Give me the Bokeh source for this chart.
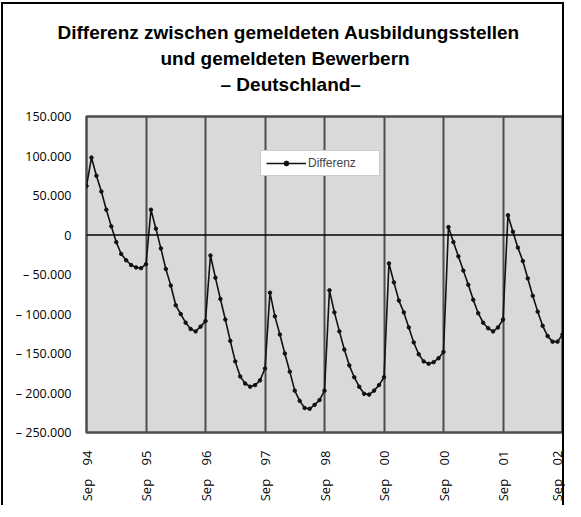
import math
from bokeh.plotting import figure
from bokeh.models import Range1d, FixedTicker, Span, Legend, LegendItem, Title, InlineStyleSheet
from bokeh.embed import file_html
from bokeh.resources import INLINE

# Differenz (gemeldete Ausbildungsstellen - gemeldete Bewerber), monatlich ab Sep 94
jahr_94_95 = [62000, 98000, 75000, 55000, 32000, 11000, -9000, -24000, -32000, -38000, -41000, -42000, -37000]
jahr_95_96 = [32000, 8000, -17000, -43000, -64000, -89000, -100000, -111000, -119000, -122000, -116000, -109000]
jahr_96_97 = [-26000, -54000, -81000, -107000, -134000, -160000, -179000, -188000, -192000, -190000, -184000, -169000]
jahr_97_98 = [-73000, -103000, -126000, -150000, -173000, -197000, -210000, -219000, -220000, -215000, -209000, -197000]
jahr_98_99 = [-70000, -98000, -122000, -145000, -165000, -180000, -192000, -201000, -202000, -197000, -190000, -180000]
jahr_99_00 = [-36000, -60000, -83000, -98000, -117000, -136000, -151000, -160000, -163000, -161000, -156000, -148000]
jahr_00_01 = [10000, -9000, -27000, -45000, -63000, -82000, -99000, -111000, -118000, -122000, -117000, -107000]
jahr_01_02 = [25000, 4000, -16000, -33000, -55000, -77000, -97000, -115000, -128000, -135000, -135000, -126000]

differenz = (jahr_94_95 + jahr_95_96 + jahr_96_97 + jahr_97_98 +
             jahr_98_99 + jahr_99_00 + jahr_00_01 + jahr_01_02)
monate = list(range(len(differenz)))

SP = "\u00a0\u00a0\u00a0\u00a0"
x_ticks = [0, 12, 24, 36, 48, 60, 72, 84, 96]
x_labels = ["Sep" + SP + "94", "Sep" + SP + "95", "Sep" + SP + "96", "Sep" + SP + "97",
            "Sep" + SP + "98", "Sep" + SP + "00", "Sep" + SP + "00", "Sep" + SP + "01",
            "Sep" + SP + "02"]
y_ticks = [150000, 100000, 50000, 0, -50000, -100000, -150000, -200000, -250000]
y_labels = ["150.000", "100.000", "50.000", "0", "– 50.000", "– 100.000", "– 150.000", "– 200.000", "– 250.000"]

title_lines = ["Differenz zwischen gemeldeten Ausbildungsstellen",
               "und gemeldeten Bewerbern",
               "– Deutschland–"]

# layout (pixels)
W, H = 565, 505
FL, FR, FT, FB = 86, 562, 116, 432

p = figure(width=W, height=H, x_range=Range1d(0, 96), y_range=Range1d(-250000, 150000),
           output_backend="svg", toolbar_location=None,
           min_border_left=FL, min_border_right=W - FR, min_border_top=FT, min_border_bottom=H - FB)

# outer frame of the whole chart (open at the bottom, as in the original)
p.stylesheets = [InlineStyleSheet(css=(
    ":host::after { content: ''; position: absolute; left: 1px; top: 2px; "
    "width: 563px; height: 503px; box-sizing: border-box; "
    "border-left: 2px solid black; border-top: 2px solid black; border-right: 2px solid black; "
    "pointer-events: none; z-index: 10; }"))]

p.background_fill_color = "#d9d9d9"
p.border_fill_color = "white"
p.outline_line_color = "#4d4d4d"
p.outline_line_width = 2.5

xa = p.xaxis[0]
xa.ticker = FixedTicker(ticks=x_ticks)
xa.major_label_overrides = {t: l for t, l in zip(x_ticks, x_labels)}
xa.major_label_orientation = math.pi / 2
xa.major_label_standoff = 12
xa.major_label_text_font = "Open Sans"
xa.major_label_text_font_size = "13px"
xa.major_label_text_color = "black"

ya = p.yaxis[0]
ya.ticker = FixedTicker(ticks=y_ticks)
ya.major_label_overrides = {t: l for t, l in zip(y_ticks, y_labels)}
ya.major_label_standoff = 9
ya.major_label_text_font = "Open Sans"
ya.major_label_text_font_size = "12.5px"
ya.major_label_text_color = "black"

for ax in (xa, ya):
    ax.axis_line_color = None
    ax.major_tick_line_color = None
    ax.minor_tick_line_color = None

p.xgrid.ticker = FixedTicker(ticks=x_ticks[1:-1])
p.xgrid.grid_line_color = "#4d4d4d"
p.xgrid.grid_line_width = 2
p.ygrid.grid_line_color = None

p.add_layout(Span(location=0, dimension="width", line_color="black", line_width=1.5))

r_line = p.line(monate, differenz, line_color="#111111", line_width=1.6)
r_pts = p.scatter(monate, differenz, size=3.5, color="#111111")

legend = Legend(items=[LegendItem(label="Differenz", renderers=[r_line, r_pts])],
                location=(174, 256))
legend.background_fill_color = "white"
legend.background_fill_alpha = 1
legend.border_line_color = "#999999"
legend.label_text_font = "Liberation Sans"
legend.label_text_font_size = "12px"
legend.glyph_width = 40
legend.glyph_height = 12
legend.padding = 5
legend.margin = 0
legend.label_standoff = 2
legend.label_width = 66
p.add_layout(legend)

# title block: spacer below, three centred lines, spacer on top
TFONT, TSIZE = "Liberation Sans", "19px"
title_offsets = [-29, 74, 134]
p.add_layout(Title(text=" ", text_font_size="1px", standoff=17), "above")
for txt, off in zip(reversed(title_lines), reversed(title_offsets)):
    p.add_layout(Title(text=txt, align="left", offset=off, standoff=3,
                       text_font=TFONT, text_font_size=TSIZE, text_font_style="bold",
                       text_color="black"), "above")
p.add_layout(Title(text=" ", text_font_size="1px", standoff=14), "above")

open("out.html", "w").write(file_html(p, INLINE))
